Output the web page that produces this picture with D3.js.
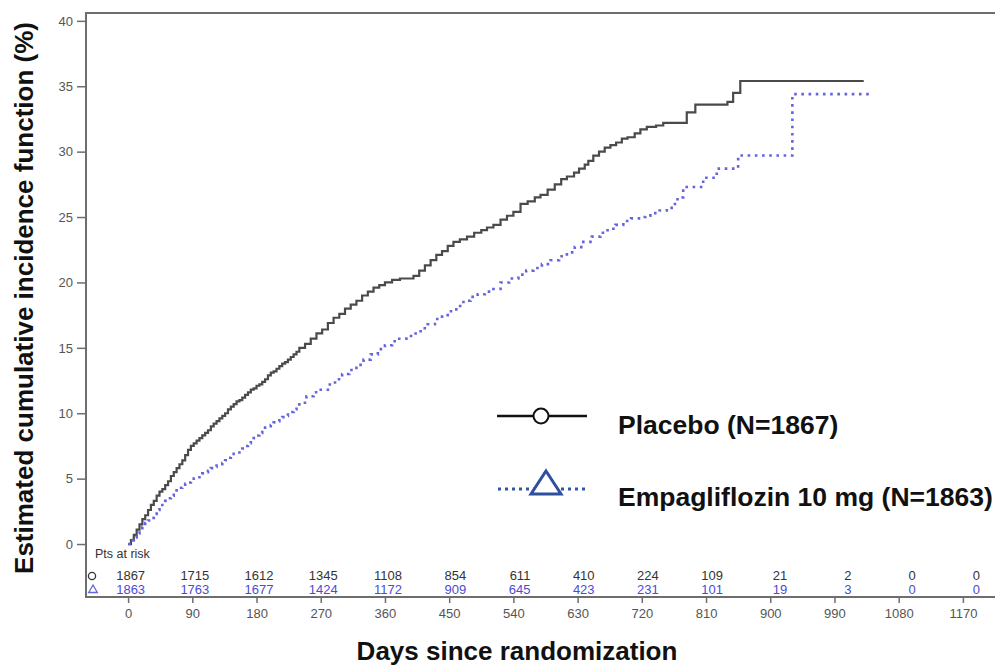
<!DOCTYPE html>
<html>
<head>
<meta charset="utf-8">
<script src="https://cdn.jsdelivr.net/npm/d3@7"></script>
<style>
  body { margin: 0; background: #fff; }
  svg { display: block; font-family: "Liberation Sans", Arial, sans-serif; }
</style>
</head>
<body>
<div id="chart"></div>
<script>
// cumulative incidence: [day, %]
const placebo = [
  [0,0],[4,0.3],[8,0.7],[12,1.1],[16,1.5],[20,1.9],[24,2.2],[28,2.6],[32,3.0],[36,3.3],
  [40,3.7],[44,4.0],[48,4.2],[52,4.5],[56,4.8],[60,5.2],[64,5.5],[68,5.8],[72,6.1],[76,6.4],
  [80,6.8],[84,7.2],[88,7.5],[92,7.7],[96,7.9],[100,8.1],[104,8.3],[108,8.5],[112,8.7],
  [116,9.0],[120,9.2],[124,9.4],[128,9.6],[132,9.8],[136,10.0],[140,10.3],[144,10.5],
  [148,10.7],[152,10.9],[156,11.0],[160,11.2],[164,11.4],[168,11.6],[172,11.8],[176,11.9],
  [180,12.1],[184,12.2],[188,12.4],[192,12.6],[196,12.9],[200,13.1],[204,13.2],[208,13.4],
  [212,13.6],[216,13.8],[220,13.9],[224,14.1],[228,14.3],[232,14.5],[236,14.7],[240,15.0],
  [248,15.3],[256,15.7],[264,16.1],[272,16.4],[280,16.9],[288,17.3],[296,17.6],[304,18.0],
  [312,18.3],[320,18.6],[328,19.0],[336,19.3],[344,19.6],[352,19.8],[360,20.0],[370,20.2],
  [381,20.3],[400,20.5],[408,20.9],[416,21.3],[424,21.7],[432,22.1],[440,22.4],[448,22.8],
  [456,23.1],[465,23.3],[475,23.5],[485,23.8],[495,24.0],[503,24.2],[512,24.4],[522,24.8],
  [531,25.1],[540,25.4],[550,26.0],[560,26.2],[570,26.5],[578,26.7],[588,27.1],[598,27.5],
  [607,27.9],[615,28.1],[625,28.4],[632,28.7],[640,29.0],[645,29.3],[652,29.7],[660,30.0],
  [668,30.3],[676,30.5],[684,30.7],[692,31.0],[700,31.1],[710,31.4],[718,31.7],[727,31.9],
  [740,32.0],[750,32.2],[783,33.0],[795,33.6],[840,33.8],[848,34.5],[858,35.4],[1031,35.4]
];
const empa = [
  [0,0],[4,0.3],[8,0.5],[12,0.8],[16,1.1],[20,1.3],[24,1.6],[28,1.8],[32,2.0],[36,2.3],
  [40,2.6],[44,2.8],[48,3.1],[52,3.3],[56,3.5],[60,3.7],[64,3.9],[68,4.1],[72,4.3],[76,4.4],
  [80,4.6],[84,4.7],[88,4.8],[92,5.0],[96,5.1],[100,5.3],[104,5.4],[108,5.5],[112,5.6],
  [116,5.8],[120,5.9],[124,6.0],[128,6.1],[132,6.2],[136,6.4],[140,6.6],[144,6.7],[148,6.9],
  [152,7.0],[156,7.2],[160,7.3],[164,7.5],[168,7.7],[172,7.9],[176,8.1],[180,8.3],[184,8.5],
  [188,8.7],[192,8.9],[196,9.0],[200,9.1],[204,9.3],[208,9.4],[212,9.6],[216,9.7],[220,9.8],
  [224,10.0],[228,10.1],[232,10.3],[236,10.5],[240,10.8],[250,11.3],[260,11.6],[270,11.8],
  [280,12.2],[290,12.6],[300,13.0],[310,13.3],[320,13.7],[330,14.1],[340,14.5],[350,14.9],
  [360,15.2],[370,15.5],[380,15.7],[390,15.9],[400,16.1],[410,16.5],[420,16.8],[430,17.2],
  [440,17.5],[450,17.8],[460,18.2],[470,18.6],[480,18.9],[490,19.1],[500,19.3],[512,19.5],
  [522,20.0],[534,20.3],[547,20.6],[558,20.9],[568,21.1],[580,21.4],[592,21.7],[604,22.0],
  [615,22.3],[626,22.7],[638,23.1],[650,23.5],[662,23.8],[672,24.1],[683,24.4],[694,24.7],
  [705,24.9],[716,25.0],[725,25.1],[732,25.3],[745,25.5],[755,25.7],[764,26.0],[770,26.5],
  [778,27.3],[806,28.0],[825,28.7],[855,29.7],[931,34.4],[1043,34.4]
];

const xTicks = [0, 90, 180, 270, 360, 450, 540, 630, 720, 810, 900, 990, 1080, 1170];
const yTicks = [0, 5, 10, 15, 20, 25, 30, 35, 40];
const riskPlacebo = [1867, 1715, 1612, 1345, 1108, 854, 611, 410, 224, 109, 21, 2, 0, 0];
const riskEmpa = [1863, 1763, 1677, 1424, 1172, 909, 645, 423, 231, 101, 19, 3, 0, 0];

const W = 995, H = 668;
const axisCol = "#6e6e6e", tickCol = "#555";
const placeboCol = "#4a4a4a", empaCol = "#6464dc";

const svg = d3.select("#chart").append("svg")
  .attr("width", W).attr("height", H);

const x = d3.scaleLinear().domain([-59, 1215]).range([86, 995]);
const y = d3.scaleLinear().domain([-4.05, 40.6]).range([597, 13]);

// frame: top + left + bottom
svg.append("path")
  .attr("d", `M${x.range()[1]},${y.range()[1]}H${x.range()[0]}V${y.range()[0]}H${x.range()[1]}`)
  .attr("fill", "none").attr("stroke", axisCol).attr("stroke-width", 2);

// y axis
const yAxis = svg.append("g")
  .attr("transform", `translate(${x.range()[0]},0)`)
  .call(d3.axisLeft(y).tickValues(yTicks).tickSize(9).tickPadding(4));
yAxis.select(".domain").remove();
yAxis.selectAll("line").attr("stroke", axisCol).attr("stroke-width", 1.5);
yAxis.selectAll("text").attr("font-size", 13).attr("fill", tickCol)
  .attr("font-family", "Liberation Sans, Arial, sans-serif");

// x axis
const xAxis = svg.append("g")
  .attr("transform", `translate(0,${y.range()[0]})`)
  .call(d3.axisBottom(x).tickValues(xTicks).tickFormat(d3.format("d")).tickSize(6).tickPadding(6));
xAxis.select(".domain").remove();
xAxis.selectAll("line").attr("stroke", axisCol).attr("stroke-width", 1.5);
xAxis.selectAll("text").attr("font-size", 13).attr("fill", tickCol)
  .attr("font-family", "Liberation Sans, Arial, sans-serif");

// curves
const line = d3.line()
  .x(d => x(d[0])).y(d => y(d[1]))
  .curve(d3.curveStepAfter);

svg.append("path").datum(placebo)
  .attr("d", line).attr("fill", "none")
  .attr("stroke", placeboCol).attr("stroke-width", 2.2);

svg.append("path").datum(empa)
  .attr("d", line).attr("fill", "none")
  .attr("stroke", empaCol).attr("stroke-width", 2.6)
  .attr("stroke-dasharray", "2.6,4.6");

// patients at risk
svg.append("text").attr("x", 95).attr("y", 558)
  .attr("font-size", 12.5).attr("fill", "#333").text("Pts at risk");

const rowY = [580, 594];
svg.append("circle").attr("cx", 92).attr("cy", rowY[0] - 4).attr("r", 3.6)
  .attr("fill", "none").attr("stroke", "#333").attr("stroke-width", 1.3);
svg.append("path")
  .attr("d", d3.symbol(d3.symbolTriangle, 32)())
  .attr("transform", `translate(93,${rowY[1] - 4})`)
  .attr("fill", "none").attr("stroke", empaCol).attr("stroke-width", 1.3);

[[riskPlacebo, "#333"], [riskEmpa, "#4b4bd6"]].forEach(([vals, col], r) => {
  svg.append("g").selectAll("text").data(vals).join("text")
    .attr("x", (d, i) => x(xTicks[i]) + 17)
    .attr("y", rowY[r])
    .attr("text-anchor", "end")
    .attr("font-size", 13)
    .attr("fill", col)
    .text(d => d);
});

// axis titles
svg.append("text")
  .attr("transform", `translate(33,298) rotate(-90)`)
  .attr("text-anchor", "middle")
  .attr("font-size", 26).attr("font-weight", "bold").attr("fill", "#111")
  .text("Estimated cumulative incidence function (%)");

svg.append("text")
  .attr("x", 517).attr("y", 660)
  .attr("text-anchor", "middle")
  .attr("font-size", 26).attr("font-weight", "bold").attr("fill", "#111")
  .text("Days since randomization");

// legend
const legend = svg.append("g");
legend.append("line").attr("x1", 497).attr("x2", 587).attr("y1", 416).attr("y2", 416)
  .attr("stroke", "#111").attr("stroke-width", 2.5);
legend.append("circle").attr("cx", 541).attr("cy", 416).attr("r", 7.5)
  .attr("fill", "#fff").attr("stroke", "#111").attr("stroke-width", 2);
legend.append("text").attr("x", 618).attr("y", 434)
  .attr("font-size", 26.5).attr("font-weight", "bold").attr("fill", "#111")
  .text("Placebo (N=1867)");

legend.append("line").attr("x1", 498).attr("x2", 588).attr("y1", 489).attr("y2", 489)
  .attr("stroke", "#3355a8").attr("stroke-width", 3)
  .attr("stroke-dasharray", "3,4");
legend.append("path")
  .attr("d", "M546,471L561,494L531,494Z")
  .attr("fill", "#fff").attr("stroke", "#2f4f9f").attr("stroke-width", 3)
  .attr("stroke-linejoin", "miter");
legend.append("text").attr("x", 618).attr("y", 506)
  .attr("font-size", 26.5).attr("font-weight", "bold").attr("fill", "#111")
  .text("Empagliflozin 10 mg (N=1863)");
</script>
</body>
</html>
